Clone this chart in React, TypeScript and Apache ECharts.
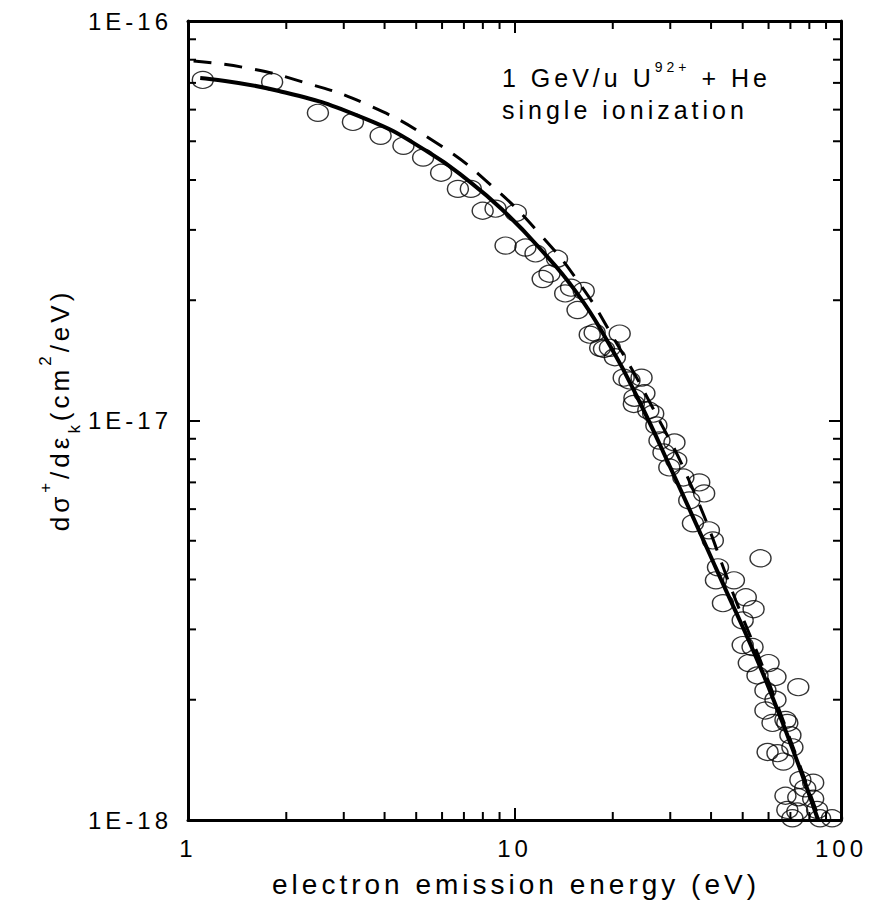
import React, { useEffect, useRef } from 'react';
import * as echarts from 'echarts';

const FONT = "'Liberation Sans', Arial, sans-serif";
const LETTER_SPACING = 4;

// Measured points: electron energy (eV) and cross section in units of 1E-17 cm^2/eV
const measuredEnergy = [
  1.11, 1.81, 2.50, 3.20, 3.89, 4.57, 5.25, 5.96, 6.71, 7.35, 7.99, 8.75, 10.1, 9.39, 10.8, 11.6,
  13.5, 12.2, 12.8, 14.3, 14.9, 16.3, 15.6, 17.0, 17.6, 21.0, 18.3, 18.8, 19.6, 20.3, 21.6, 22.5,
  24.5, 23.3, 25.0, 25.7, 26.6, 27.2, 27.8, 28.6, 30.9, 29.8, 23.2, 31.3, 32.9, 36.8, 38.1, 34.3,
  35.2, 39.4, 40.5, 56.7, 42.0, 41.4, 47.0, 51.1, 43.5, 54.0, 50.0, 50.0, 53.6, 52.2, 60.0, 55.5,
  63.0, 74.0, 58.7, 63.0, 58.7, 67.6, 61.7, 68.5, 70.0, 59.6, 63.9, 66.6, 71.0, 75.1, 82.2, 77.7,
  67.6, 74.0, 82.2, 68.5, 73.5, 84.5, 71.0, 93.9, 86.3,
];
const measuredCrossSection = [
  7.12, 7.04, 5.89, 5.59, 5.16, 4.87, 4.55, 4.17, 3.80, 3.80, 3.35, 3.39, 3.31, 2.74, 2.71, 2.62,
  2.54, 2.26, 2.33, 2.08, 2.15, 2.11, 1.89, 1.64, 1.66, 1.65, 1.52, 1.51, 1.52, 1.44, 1.28, 1.26,
  1.28, 1.14, 1.17, 1.06, 1.04, 0.972, 0.891, 0.832, 0.881, 0.763, 1.10, 0.794, 0.720, 0.700, 0.657, 0.631,
  0.553, 0.531, 0.501, 0.452, 0.429, 0.398, 0.398, 0.361, 0.349, 0.337, 0.316, 0.274, 0.271, 0.247, 0.247, 0.230,
  0.228, 0.215, 0.211, 0.200, 0.188, 0.178, 0.175, 0.175, 0.163, 0.148, 0.147, 0.140, 0.152, 0.126, 0.124, 0.120,
  0.115, 0.114, 0.113, 0.106, 0.105, 0.106, 0.101, 0.101, 0.101,
];

// Solid theory curve
const solidEnergy = [1.09, 1.90, 3.50, 5.44, 7.35, 9.32, 11.7, 15.5, 19.6, 23.7, 30.6, 41.4, 60.0, 85.1];
const solidCrossSection = [7.20, 6.68, 5.69, 4.70, 3.94, 3.33, 2.75, 2.09, 1.54, 1.15, 0.737, 0.427, 0.215, 0.100];

// Dashed theory curve
const dashedEnergy = [1.04, 1.51, 2.24, 3.50, 5.71, 8.45, 12.0, 15.9, 20.1, 26.6, 35.2, 47.6, 60.0, 86.0];
const dashedCrossSection = [7.94, 7.63, 7.04, 6.20, 4.98, 3.89, 2.92, 2.19, 1.61, 1.07, 0.672, 0.355, 0.222, 0.100];

// Minor tick positions
const xMinorTicks = [2, 3, 4, 5, 6, 7, 8, 9, 20, 30, 40, 50, 60, 70, 80, 90];
const yMinorTicks = [0.2, 0.3, 0.4, 0.5, 0.6, 0.7, 0.8, 0.9, 2, 3, 4, 5, 6, 7, 8, 9];

const Y_UNIT_EXP = -17;

export default function App() {
  const ref = useRef<HTMLDivElement>(null);

  useEffect(() => {
    const anyE = echarts as any;
    if (typeof anyE.setPlatformAPI === 'function') {
      const cv = document.createElement('canvas');
      const ctx = cv.getContext('2d') as any;
      if (ctx) {
        anyE.setPlatformAPI({
          measureText(text: string, font?: string) {
            ctx.font = font || `12px ${FONT}`;
            try { ctx.letterSpacing = LETTER_SPACING + 'px'; } catch (e) { /* ignore */ }
            return ctx.measureText(text);
          },
        });
      }
    }

    const chart = echarts.init(ref.current!, null, { renderer: 'svg' });

    const axisLine = { show: true, onZero: false, lineStyle: { color: '#000', width: 3 } };
    const axisTick = { show: true, inside: true, length: 12, lineStyle: { color: '#000', width: 2 } };
    const tickLabel = { fontSize: 24, fontFamily: FONT, color: '#000' };

    const option: any = {
      animation: false,
      backgroundColor: '#fff',
      grid: { left: 188, right: 24, top: 21, bottom: 93, containLabel: false },
      xAxis: [
        {
          type: 'log', logBase: 10, min: 1, max: 100, position: 'bottom',
          axisLine, axisTick, splitLine: { show: false }, minorTick: { show: false },
          axisLabel: { ...tickLabel, margin: 14, formatter: (v: number) => String(Math.round(v)) },
        },
        {
          type: 'log', logBase: 10, min: 1, max: 100, position: 'top',
          axisLine, axisTick, splitLine: { show: false }, axisLabel: { show: false },
        },
      ],
      yAxis: [
        {
          type: 'log', logBase: 10, min: 0.1, max: 10, position: 'left',
          axisLine, axisTick, splitLine: { show: false },
          axisLabel: {
            ...tickLabel, margin: 16,
            formatter: (v: number) => '1E' + (Math.round(Math.log10(v)) + Y_UNIT_EXP),
          },
        },
        {
          type: 'log', logBase: 10, min: 0.1, max: 10, position: 'right',
          axisLine, axisTick, splitLine: { show: false }, axisLabel: { show: false },
        },
      ],
      series: [
        {
          type: 'scatter',
          data: measuredEnergy.map((x, i) => [x, measuredCrossSection[i]]),
          symbol: 'circle',
          symbolSize: [21, 17],
          itemStyle: { color: 'rgba(255,255,255,0)', borderColor: '#000', borderWidth: 1.3 },
          silent: true,
          z: 2,
        },
        {
          type: 'line',
          data: dashedEnergy.map((x, i) => [x, dashedCrossSection[i]]),
          showSymbol: false, symbol: 'none',
          smooth: 0.5,
          lineStyle: { color: '#000', width: 3, type: [18, 13] },
          silent: true,
          z: 3,
        },
        {
          type: 'line',
          data: solidEnergy.map((x, i) => [x, solidCrossSection[i]]),
          showSymbol: false, symbol: 'none',
          smooth: 0.5,
          lineStyle: { color: '#000', width: 4 },
          silent: true,
          z: 4,
        },
        {
          type: 'custom',
          data: xMinorTicks.map((v) => [v, 1]),
          silent: true,
          z: 5,
          renderItem: (params: any, api: any) => {
            const cs = params.coordSys;
            const p = api.coord([api.value(0), 1]);
            const bottom = cs.y + cs.height;
            return {
              type: 'group',
              children: [
                { type: 'line', shape: { x1: p[0], y1: bottom, x2: p[0], y2: bottom - 8 }, style: { stroke: '#000', lineWidth: 2 } },
                { type: 'line', shape: { x1: p[0], y1: cs.y, x2: p[0], y2: cs.y + 8 }, style: { stroke: '#000', lineWidth: 2 } },
              ],
            };
          },
        },
        {
          type: 'custom',
          data: yMinorTicks.map((v) => [1, v]),
          silent: true,
          z: 5,
          renderItem: (params: any, api: any) => {
            const cs = params.coordSys;
            const p = api.coord([1, api.value(1)]);
            const right = cs.x + cs.width;
            return {
              type: 'group',
              children: [
                { type: 'line', shape: { x1: cs.x, y1: p[1], x2: cs.x + 8, y2: p[1] }, style: { stroke: '#000', lineWidth: 2 } },
                { type: 'line', shape: { x1: right - 8, y1: p[1], x2: right, y2: p[1] }, style: { stroke: '#000', lineWidth: 2 } },
              ],
            };
          },
        },
      ],
      graphic: [
        {
          type: 'text', x: 516, y: 884, silent: true,
          style: {
            text: 'electron emission energy (eV)', font: `28px ${FONT}`, fill: '#000',
            align: 'center', verticalAlign: 'middle', textAlign: 'center', textVerticalAlign: 'middle',
          },
        },
        {
          type: 'text', x: 60, y: 410, rotation: Math.PI / 2, silent: true,
          style: {
            text: '{m|dσ}{sp|+}{m|/dε}{sb|k}{m|(cm}{sp|2}{m|/eV)}',
            fill: '#000',
            align: 'center', verticalAlign: 'middle', textAlign: 'center', textVerticalAlign: 'middle',
            rich: {
              m: { fontSize: 26, fontFamily: FONT, lineHeight: 50, verticalAlign: 'middle', fill: '#000' },
              sp: { fontSize: 17, fontFamily: FONT, lineHeight: 17, verticalAlign: 'top', fill: '#000' },
              sb: { fontSize: 17, fontFamily: FONT, lineHeight: 40, verticalAlign: 'bottom', fill: '#000' },
            },
          },
        },
        {
          type: 'text', x: 502, y: 77.5, silent: true,
          style: {
            text: '{m|1 GeV/u U}{sp|92+}{m| + He}',
            fill: '#000',
            align: 'left', verticalAlign: 'middle', textAlign: 'left', textVerticalAlign: 'middle',
            rich: {
              m: { fontSize: 25, fontFamily: FONT, lineHeight: 40, verticalAlign: 'middle', fill: '#000' },
              sp: { fontSize: 14, fontFamily: FONT, lineHeight: 14, verticalAlign: 'top', fill: '#000' },
            },
          },
        },
        {
          type: 'text', x: 502, y: 109.5, silent: true,
          style: {
            text: 'single ionization', font: `25px ${FONT}`, fill: '#000',
            align: 'left', verticalAlign: 'middle', textAlign: 'left', textVerticalAlign: 'middle',
          },
        },
      ],
    };

    chart.setOption(option);
    return () => {
      chart.dispose();
    };
  }, []);

  return (
    <div>
      <style>{`.chart-box text { letter-spacing: ${LETTER_SPACING}px; }`}</style>
      <div
        ref={ref}
        className="chart-box"
        style={{ position: 'absolute', left: 0, top: 0, width: 870, height: 913, background: '#fff' }}
      />
    </div>
  );
}
